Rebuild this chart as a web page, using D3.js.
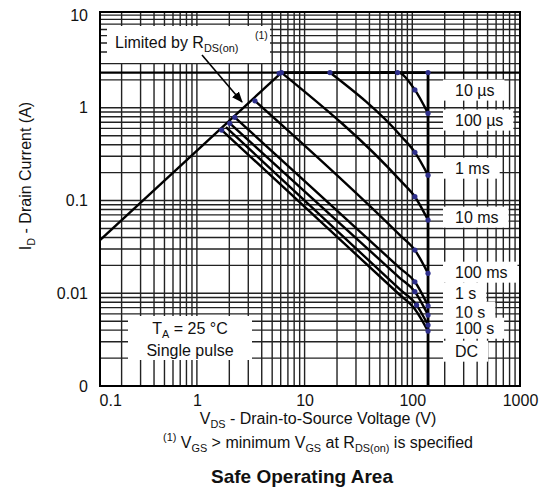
<!DOCTYPE html>
<html>
<head>
<meta charset="utf-8">
<script src="https://cdn.jsdelivr.net/npm/d3@7"></script>
<style>
  body { margin: 0; background: #fff; }
  text { font-family: "Liberation Sans", Arial, sans-serif; fill: #111; }
</style>
</head>
<body>
<script>
// axis ticks
const xTicks = [0.1, 1, 10, 100, 1000]
const yTicks = [0.001, 0.01, 0.1, 1, 10]
const yTickLabels = ['0', '0.01', '0.1', '1', '10']

// limits (V, A)
const rdsLimit = [[0.126, 0.0375], [6.1, 2.4]]
const currentLimit = 2.4
const boundary = [[6.1, 2.4], [140, 2.4], [140, 0.001]]

// pulse curves (V, A)
const curve100us = [[50, 2.4], [73, 2.4], [105.7, 1.56], [140, 0.872]]
const curve1ms = [[17.2, 2.4], [79.6, 0.488], [105.7, 0.331], [140, 0.188]]
const curve10ms = [[6.1, 2.4], [79.6, 0.159], [105.7, 0.110], [140, 0.0616]]
const curve100ms = [[3.46, 1.19], [76.7, 0.0424], [105.7, 0.0292], [140, 0.0164]]
const curve1s = [[2.25, 0.79], [76.7, 0.0187], [105.7, 0.0133], [140, 0.00733]]
const curve10s = [[2.02, 0.68], [76.7, 0.0146], [105.7, 0.0104], [140, 0.00582]]
const curve100s = [[1.86, 0.62], [76.7, 0.0110], [109.6, 0.00746], [140, 0.00454]]
const curveDC = [[1.70, 0.576], [76.7, 0.00958], [105, 0.0068], [140, 0.00391]]

// digitised marker dots
const markers = [[6.1, 2.4], [5.8, 2.36], [17.2, 2.4], [73, 2.4], [140, 2.4],
  [105.7, 1.56], [140, 0.872], [105.7, 0.331], [140, 0.188],
  [105.7, 0.110], [140, 0.0616], [3.46, 1.19], [105.7, 0.0292], [140, 0.0164],
  [2.25, 0.79], [105.7, 0.0133], [140, 0.00733], [2.02, 0.68], [105.7, 0.0104], [140, 0.00582],
  [109.6, 0.00746], [140, 0.00454], [1.70, 0.576], [140, 0.00391]]

// right-hand legend labels and the current they sit at
const pulseLabels = ['10 µs', '100 µs', '1 ms', '10 ms', '100 ms', '1 s', '10 s', '100 s', 'DC']
const pulseLabelAt = [1.556, 0.739, 0.224, 0.0664, 0.01693, 0.01005, 0.00627, 0.00421, 0.00238]

const w = 547
const h = 488

const svg = d3.select('body').append('svg')
  .attr('width', w)
  .attr('height', h)

const x = d3.scaleLog().domain([0.126, 1000]).range([100, 520])
const y = d3.scaleLog().domain([0.001, 10.8]).range([386, 12])

// grid
const grid = svg.append('g').attr('stroke', '#222').attr('stroke-width', 1.4)
grid.selectAll('.gx').data(x.ticks()).enter().append('line')
  .attr('x1', d => x(d)).attr('x2', d => x(d))
  .attr('y1', 12).attr('y2', 386)
grid.selectAll('.gy').data(y.ticks()).enter().append('line')
  .attr('x1', 100).attr('x2', 520)
  .attr('y1', d => y(d)).attr('y2', d => y(d))
svg.append('line')
  .attr('x1', 100).attr('x2', 520)
  .attr('y1', y(currentLimit)).attr('y2', y(currentLimit))
  .attr('stroke', '#000').attr('stroke-width', 2.2)

// white boxes over the grid
svg.append('rect').attr('x', 107).attr('y', 26).attr('width', 163).attr('height', 37).attr('fill', '#fff')
svg.append('rect').attr('x', 128).attr('y', 316).attr('width', 124).attr('height', 44).attr('fill', '#fff')

// frame
svg.append('rect')
  .attr('x', 100).attr('y', 12).attr('width', 420).attr('height', 374)
  .attr('fill', 'none').attr('stroke', '#000').attr('stroke-width', 2)

const line = d3.line()
  .x(d => x(d[0]))
  .y(d => y(d[1]))

svg.append('path').datum(rdsLimit).attr('d', line)
  .attr('fill', 'none').attr('stroke', '#000').attr('stroke-width', 2.4)
svg.append('path').datum(boundary).attr('d', line)
  .attr('fill', 'none').attr('stroke', '#000').attr('stroke-width', 2.8)

const smooth = d3.line().curve(d3.curveMonotoneX)
  .x(d => x(d[0]))
  .y(d => y(d[1]))
const curves = [curve100us, curve1ms, curve10ms, curve100ms, curve1s, curve10s, curve100s, curveDC]
svg.selectAll('.curve').data(curves).enter().append('path')
  .attr('d', smooth)
  .attr('fill', 'none').attr('stroke', '#000').attr('stroke-width', 2.4)

svg.selectAll('.dot').data(markers).enter().append('circle')
  .attr('cx', d => x(d[0])).attr('cy', d => y(d[1]))
  .attr('r', 2.6).attr('fill', '#2e2f8c')

// rich text helper: parts = [text, 'sub'|'sup'|undefined]
function rich(sel, parts, size) {
  let shift = 0
  parts.forEach(p => {
    const target = p[1] === 'sub' ? size * 0.25 : p[1] === 'sup' ? -size * 0.42 : 0
    sel.append('tspan')
      .attr('dy', target - shift)
      .attr('font-size', p[1] ? size * 0.68 : size)
      .text(p[0])
    shift = target
  })
  return sel
}

// annotation: limited by RDS(on)
rich(svg.append('text').attr('x', 115).attr('y', 48).attr('font-size', 16),
  [['Limited by R'], ['DS(on)', 'sub']], 16)
svg.append('text').attr('x', 255).attr('y', 39).attr('font-size', 10.5).text('(1)')

svg.append('defs').append('marker')
  .attr('id', 'arrow').attr('viewBox', '0 0 10 10')
  .attr('refX', 9).attr('refY', 5)
  .attr('markerWidth', 7).attr('markerHeight', 7)
  .attr('orient', 'auto')
  .append('path').attr('d', 'M0,1 L10,5 L0,9 z').attr('fill', '#000')
svg.append('line')
  .attr('x1', 202).attr('y1', 55).attr('x2', 242).attr('y2', 102)
  .attr('stroke', '#000').attr('stroke-width', 1.6)
  .attr('marker-end', 'url(#arrow)')

// conditions box
rich(svg.append('text').attr('x', 190).attr('y', 334).attr('text-anchor', 'middle').attr('font-size', 16),
  [['T'], ['A', 'sub'], [' = 25 °C']], 16)
svg.append('text').attr('x', 190).attr('y', 356).attr('text-anchor', 'middle').attr('font-size', 16)
  .text('Single pulse')

// pulse labels on the right
const lab = svg.append('g')
pulseLabels.forEach((t, i) => {
  const g = lab.append('g')
  const txt = g.append('text')
    .attr('x', 455).attr('y', y(pulseLabelAt[i]))
    .attr('dy', '0.35em').attr('font-size', 16)
    .text(t)
  const bb = txt.node().getBBox()
  g.insert('rect', 'text')
    .attr('x', 443).attr('y', bb.y - 2)
    .attr('width', bb.x + bb.width + 10 - 443).attr('height', bb.height + 4)
    .attr('fill', '#fff')
})

// axes
const xAxis = svg.append('g')
  .attr('transform', 'translate(0,386)')
  .call(d3.axisBottom(x).tickValues(xTicks).tickSize(0).tickPadding(9).tickFormat(d => d))
xAxis.select('.domain').remove()
xAxis.selectAll('text').attr('font-size', 16).attr('fill', '#111')
  .filter(d => d === 0.1).attr('dx', 21)

const yAxis = svg.append('g')
  .attr('transform', 'translate(100,0)')
  .call(d3.axisLeft(y).tickValues(yTicks).tickSize(0).tickPadding(12).tickFormat((d, i) => yTickLabels[i]))
yAxis.select('.domain').remove()
yAxis.selectAll('text').attr('font-size', 16).attr('fill', '#111')

// titles
rich(svg.append('text').attr('transform', 'translate(31,176) rotate(-90)')
  .attr('text-anchor', 'middle').attr('font-size', 16),
  [['I'], ['D', 'sub'], [' - Drain Current (A)']], 16)

rich(svg.append('text').attr('x', 318).attr('y', 424).attr('text-anchor', 'middle').attr('font-size', 16),
  [['V'], ['DS', 'sub'], [' - Drain-to-Source Voltage (V)']], 16)

rich(svg.append('text').attr('x', 318).attr('y', 448).attr('text-anchor', 'middle').attr('font-size', 16),
  [['(1)', 'sup'], [' V'], ['GS', 'sub'], [' > minimum V'], ['GS', 'sub'], [' at R'], ['DS(on)', 'sub'], [' is specified']], 16)

svg.append('text').attr('x', 302).attr('y', 483).attr('text-anchor', 'middle')
  .attr('font-size', 19).attr('font-weight', 'bold')
  .text('Safe Operating Area')
</script>
</body>
</html>
